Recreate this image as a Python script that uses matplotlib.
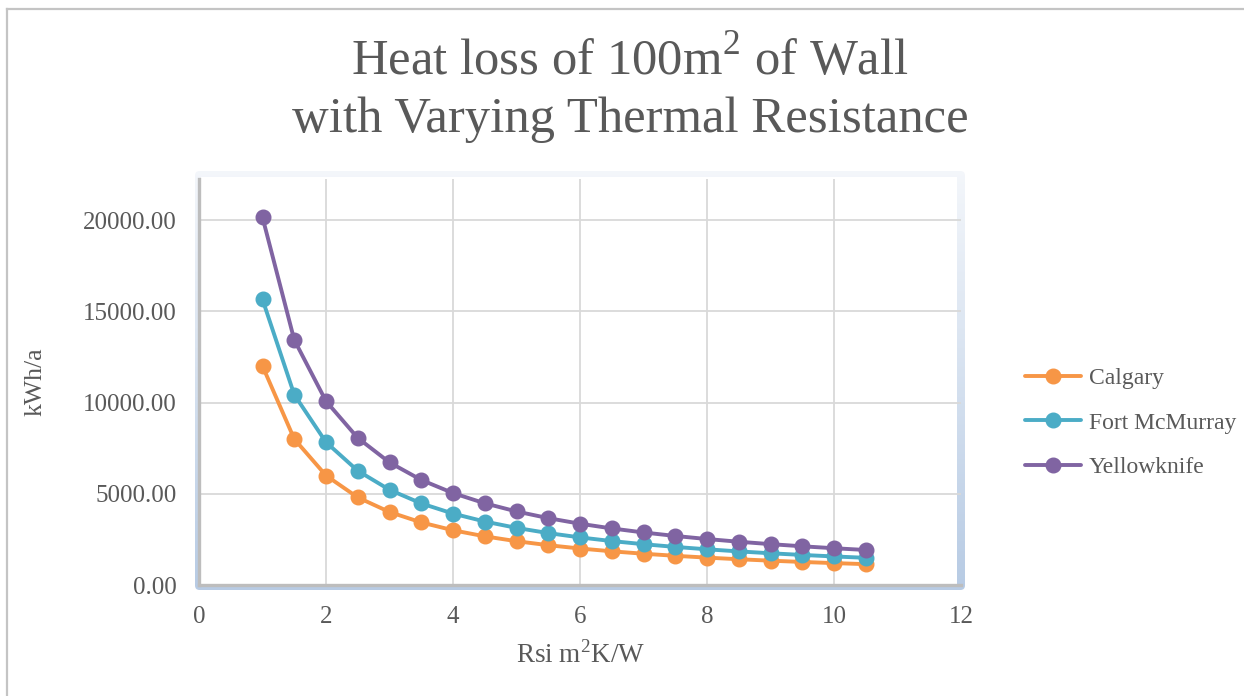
import numpy as np
import matplotlib
matplotlib.use("Agg")
import matplotlib.pyplot as plt
from matplotlib.patches import FancyBboxPatch, Rectangle
from matplotlib.lines import Line2D

plt.rcParams["font.family"] = ["Liberation Serif", "DejaVu Serif"]
plt.rcParams["mathtext.fontset"] = "custom"
plt.rcParams["mathtext.rm"] = "Liberation Serif"

# Thermal resistance (m2K/W) and yearly heat loss (kWh/a) per location
rsi = [1.0, 1.5, 2.0, 2.5, 3.0, 3.5, 4.0, 4.5, 5.0, 5.5,
       6.0, 6.5, 7.0, 7.5, 8.0, 8.5, 9.0, 9.5, 10.0, 10.5]
calgary = [12000, 8000, 6000, 4800, 4000, 3429, 3000, 2667, 2400, 2182,
           2000, 1846, 1714, 1600, 1500, 1412, 1333, 1263, 1200, 1143]
fort_mcmurray = [15650, 10433, 7825, 6260, 5217, 4471, 3913, 3478, 3130, 2845,
                 2608, 2408, 2236, 2087, 1956, 1841, 1739, 1647, 1565, 1490]
yellowknife = [20150, 13433, 10075, 8060, 6717, 5757, 5038, 4478, 4030, 3664,
               3358, 3100, 2879, 2687, 2519, 2371, 2239, 2121, 2015, 1919]

series = [("Calgary", calgary, "#F79646"),
          ("Fort McMurray", fort_mcmurray, "#4BACC6"),
          ("Yellowknife", yellowknife, "#8064A2")]

W, H = 1244, 696
TXT = "#595959"
fig = plt.figure(figsize=(W / 100, H / 100), dpi=100)

# chart area border (only top and left edges fall inside the image)
fig.add_artist(Line2D([7 / W, 1], [1 - 9 / H, 1 - 9 / H], color="#C4C4C4", lw=1.6))
fig.add_artist(Line2D([7 / W, 7 / W], [0, 1 - 9 / H], color="#C4C4C4", lw=1.6))

# plot area frame with a vertical blue gradient
fx0, fx1, fy0, fy1 = 195, 965, 171, 590
bg = fig.add_axes([fx0 / W, 1 - fy1 / H, (fx1 - fx0) / W, (fy1 - fy0) / H], zorder=0)
bg.set_xlim(0, 1)
bg.set_ylim(0, 1)
bg.axis("off")
top_c = np.array([0.955, 0.966, 0.982])
bot_c = np.array([0.718, 0.796, 0.894])
t = np.linspace(0, 1, 256)[:, None]
grad = (top_c * (1 - t) + bot_c * t)[:, None, :]
im = bg.imshow(grad, extent=[0, 1, 0, 1], aspect="auto", origin="upper")
frame = FancyBboxPatch((0, 0), 1, 1, boxstyle="round,pad=0,rounding_size=0.006",
                       mutation_aspect=(fx1 - fx0) / (fy1 - fy0),
                       transform=bg.transAxes, facecolor="none", edgecolor="none")
bg.add_patch(frame)
im.set_clip_path(frame)
bg.add_patch(Rectangle(((201 - fx0) / (fx1 - fx0), (fy1 - 585) / (fy1 - fy0)),
                       (957 - 201) / (fx1 - fx0), (585 - 177) / (fy1 - fy0),
                       transform=bg.transAxes, facecolor="white", edgecolor="none"))

ax = fig.add_axes([199 / W, 1 - 585 / H, 762 / W, 406 / H], zorder=1)
ax.patch.set_alpha(0)

for name, vals, col in series:
    ax.plot(rsi, vals, color=col, lw=2.8, marker="o", markersize=10.5,
            label=name, solid_capstyle="round", zorder=3)

ax.set_xlim(0, 12)
ax.set_ylim(0, 22250)
ax.set_xticks(range(0, 13, 2))
ax.set_yticks(range(0, 20001, 5000))
ax.yaxis.set_major_formatter(matplotlib.ticker.FormatStrFormatter("%.2f"))
ax.grid(True, color="#D9D9D9", lw=1.3, zorder=0)
ax.set_axisbelow(True)
ax.xaxis.get_gridlines()[-1].set_visible(False)
ax.xaxis.get_gridlines()[0].set_visible(False)
ax.yaxis.get_gridlines()[0].set_visible(False)

for s in ["top", "right"]:
    ax.spines[s].set_visible(False)
for s in ["left", "bottom"]:
    ax.spines[s].set_color("#BDBDBD")
    ax.spines[s].set_linewidth(2.4)
ax.tick_params(length=0, labelsize=18, colors=TXT)
ax.tick_params(axis="y", pad=16)
ax.tick_params(axis="x", pad=15)

fig.text(630 / W, 1 - 90 / H, "Heat loss of 100m$^{2}$ of Wall\nwith Varying Thermal Resistance",
         ha="center", va="center", fontsize=36.5, color=TXT, linespacing=1.3)
fig.text(36 / W, 1 - 382 / H, "kWh/a", rotation=90, ha="center", va="center",
         fontsize=18.5, color=TXT)
fig.text(581 / W, 1 - 655 / H, "Rsi m$^{2}$K/W", ha="center", va="center",
         fontsize=19.5, color=TXT)

leg = ax.legend(loc="center left", bbox_to_anchor=(1013 / W, 1 - 423 / H),
                bbox_transform=fig.transFigure, frameon=False, fontsize=17,
                handlelength=2.4, handletextpad=0.3, labelspacing=0.98, borderpad=0)
for txt in leg.get_texts():
    txt.set_color(TXT)

fig.savefig("out.png", dpi=100)
